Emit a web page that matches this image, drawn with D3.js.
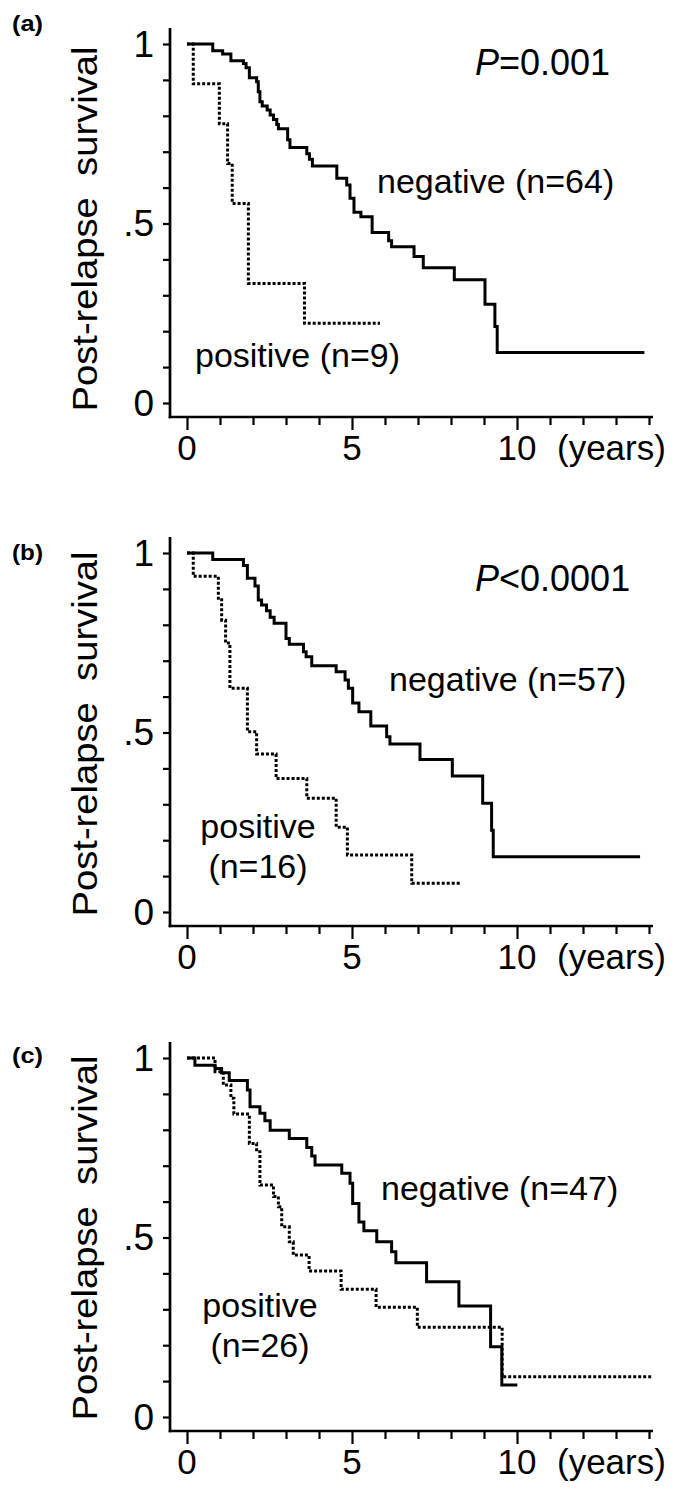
<!DOCTYPE html>
<html><head><meta charset="utf-8">
<script src="https://cdn.jsdelivr.net/npm/d3@7"></script>
<style>body{margin:0;background:#fff}svg{display:block}text{font-family:"Liberation Sans",Arial,sans-serif;fill:#000}</style>
</head><body>
<script>
// ---------- data (years, survival after each step) ----------
const panelLetters = ["(a)", "(b)", "(c)"];
const pValues = ["=0.001", "<0.0001", null];
const negLabels = ["negative (n=64)", "negative (n=57)", "negative (n=47)"];
const posLabels = [["positive (n=9)"], ["positive", "(n=16)"], ["positive", "(n=26)"]];
const yTickLabels = [[0, "0"], [0.5, ".5"], [1, "1"]];
const xTickLabels = [0, 5, 10];
const xUnit = "(years)";

const negA = [[0.78,0.981],[1.08,0.972],[1.33,0.953],[1.71,0.946],[1.79,0.934],[1.89,0.906],[2.11,0.895],[2.16,0.867],[2.21,0.839],[2.28,0.827],[2.43,0.816],[2.52,0.802],[2.62,0.790],[2.72,0.776],[2.77,0.764],[3.05,0.733],[3.12,0.712],[3.63,0.694],[3.71,0.679],[3.80,0.660],[4.54,0.626],[4.84,0.607],[4.94,0.570],[5.06,0.531],[5.27,0.519],[5.61,0.475],[6.11,0.452],[6.20,0.435],[6.88,0.408],[7.16,0.377],[8.10,0.343],[9.03,0.275],[9.33,0.213],[9.40,0.141]];
const negAEnd = 13.86;
const posA = [[0.19,0.889],[0.98,0.778],[1.23,0.667],[1.37,0.556],[1.86,0.333],[3.56,0.222]];
const posAEnd = 5.85;

const negB = [[0.78,0.982],[1.71,0.965],[1.83,0.930],[2.06,0.908],[2.16,0.869],[2.26,0.855],[2.41,0.839],[2.52,0.821],[2.64,0.804],[3.00,0.762],[3.10,0.746],[3.53,0.725],[3.61,0.711],[3.78,0.686],[4.52,0.669],[4.79,0.646],[4.89,0.623],[5.02,0.582],[5.21,0.558],[5.57,0.518],[6.05,0.488],[6.15,0.468],[7.06,0.425],[8.04,0.379],[8.96,0.303],[9.23,0.228],[9.28,0.154]];
const negBEnd = 13.73;
const posB = [[0.19,0.935],[0.95,0.870],[1.05,0.813],[1.17,0.749],[1.30,0.623],[1.83,0.502],[2.11,0.440],[2.70,0.372],[3.63,0.317],[4.52,0.236],[4.86,0.159],[6.81,0.080]];
const posBEnd = 8.30;

const negC = [[0.24,0.980],[0.85,0.971],[1.05,0.959],[1.28,0.937],[1.83,0.911],[1.91,0.864],[2.21,0.846],[2.36,0.825],[2.52,0.799],[3.10,0.776],[3.63,0.751],[3.78,0.727],[3.88,0.702],[4.69,0.679],[4.94,0.651],[5.02,0.595],[5.21,0.543],[5.36,0.519],[5.75,0.488],[6.20,0.460],[6.33,0.430],[7.26,0.377],[8.24,0.309],[9.20,0.196],[9.54,0.089]];
const negCEnd = 10.01;
const posC = [[0.85,0.962],[1.10,0.925],[1.33,0.888],[1.42,0.844],[1.89,0.762],[2.11,0.739],[2.21,0.646],[2.62,0.614],[2.77,0.586],[2.87,0.530],[3.10,0.488],[3.22,0.451],[3.70,0.407],[4.67,0.356],[5.73,0.306],[6.98,0.250],[9.55,0.112]];
const posCEnd = 14.08;

// ---------- layout ----------
const W = 685, H = 1500;
const svg = d3.select("body").append("svg").attr("width", W).attr("height", H);

const panels = [
  {off:0,   neg:negA, negEnd:negAEnd, pos:posA, posEnd:posAEnd, letterY:31, titleY:229,
   negPos:[377,193], posPos:[[195,367]], pPos:[475,75]},
  {off:509, neg:negB, negEnd:negBEnd, pos:posB, posEnd:posBEnd, letterY:560, titleY:734,
   negPos:[389,691], posPos:[[258,838],[258,878]], pPos:[475,591]},
  {off:1014,neg:negC, negEnd:negCEnd, pos:posC, posEnd:posCEnd, letterY:1063, titleY:1238,
   negPos:[381,1200], posPos:[[260,1317],[260,1357]], pPos:null}
];

function curvePoints(events, endT){
  const pts = [[0,1]].concat(events);
  pts.push([endT, events[events.length-1][1]]);
  return pts;
}

panels.forEach((p, i) => {
  const g = svg.append("g").attr("transform", `translate(0,${p.off})`);
  const x = d3.scaleLinear().domain([0,14]).range([187,649]);
  const y = d3.scaleLinear().domain([0,1]).range([403,44]);
  const axisX = 170, axisY = 417, axisTop = 28, axisRight = 653;

  // axis lines
  g.append("line").attr("x1",axisX).attr("x2",axisX).attr("y1",axisTop).attr("y2",axisY+1.3)
    .attr("stroke","#000").attr("stroke-width",2.7);
  g.append("line").attr("x1",axisX-1.3).attr("x2",axisRight).attr("y1",axisY).attr("y2",axisY)
    .attr("stroke","#000").attr("stroke-width",2.7);

  // y ticks
  const yAxis = d3.axisLeft(y).tickValues(d3.range(0,1.0001,0.1)).tickSize(7).tickSizeOuter(0).tickFormat("");
  const ya = g.append("g").attr("transform",`translate(${axisX},0)`).call(yAxis);
  ya.select(".domain").remove();
  ya.selectAll(".tick line").attr("stroke","#000").attr("stroke-width",2.2);
  g.selectAll(".ylab").data(yTickLabels).enter().append("text")
    .attr("x",154).attr("y",d=>y(d[0])).attr("dy","0.35em").attr("text-anchor","end")
    .style("font-size","37px").text(d=>d[1]);

  // x ticks
  const xa = g.append("g").attr("transform",`translate(0,${axisY})`)
    .call(d3.axisBottom(x).tickValues(d3.range(0,15)).tickSize(8).tickSizeOuter(0).tickFormat(""));
  xa.select(".domain").remove();
  xa.selectAll(".tick line").attr("stroke","#000").attr("stroke-width",2.2)
    .attr("y2", d => (d % 5 === 0 ? 13 : 8));
  g.selectAll(".xlab").data(xTickLabels).enter().append("text")
    .attr("x",d=>x(d)).attr("y",axisY+43).attr("text-anchor","middle")
    .style("font-size","35px").text(d=>d);
  g.append("text").attr("x",557).attr("y",axisY+43).style("font-size","35px").text(xUnit);

  // title
  g.append("text").attr("transform",`translate(97,${p.titleY - p.off}) rotate(-90)`)
    .attr("text-anchor","middle").style("font-size","35px")
    .attr("textLength",365).attr("lengthAdjust","spacingAndGlyphs")
    .style("white-space","pre").text("Post-relapse  survival");

  // panel letter
  g.append("text").attr("x",12).attr("y",p.letterY - p.off).style("font-size","22px")
    .style("font-weight","bold").attr("textLength",31).attr("lengthAdjust","spacingAndGlyphs")
    .text(panelLetters[i]);

  // curves
  const line = d3.line().x(d=>x(d[0])).y(d=>y(d[1])).curve(d3.curveStepAfter);
  g.append("path").attr("d", line(curvePoints(p.pos, p.posEnd)))
    .attr("fill","none").attr("stroke","#000").attr("stroke-width",3)
    .attr("stroke-dasharray","3,2");
  g.append("path").attr("d", line(curvePoints(p.neg, p.negEnd)))
    .attr("fill","none").attr("stroke","#000").attr("stroke-width",3)
    .attr("stroke-linejoin","miter");

  // annotations
  g.append("text").attr("x",p.negPos[0]).attr("y",p.negPos[1]-p.off).style("font-size","34px").text(negLabels[i]);
  posLabels[i].forEach((t,j) => {
    const pp = p.posPos[j];
    g.append("text").attr("x",pp[0]).attr("y",pp[1]-p.off)
      .attr("text-anchor", posLabels[i].length > 1 ? "middle" : "start")
      .style("font-size","34px").text(t);
  });
  if (pValues[i]) {
    const t = g.append("text").attr("x",p.pPos[0]).attr("y",p.pPos[1]-p.off).style("font-size","36px");
    t.append("tspan").style("font-style","italic").text("P");
    t.append("tspan").text(pValues[i]);
  }
});
</script>
</body></html>
